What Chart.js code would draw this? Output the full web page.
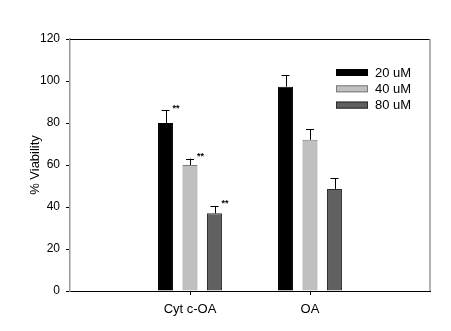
<!DOCTYPE html>
<html>
<head>
<meta charset="utf-8">
<script src="https://cdn.jsdelivr.net/npm/chart.js@4/dist/chart.umd.min.js"></script>
<style>
  html, body { margin: 0; padding: 0; background: #fff; }
  #wrap { width: 451px; height: 331px; }
</style>
</head>
<body>
<div id="wrap"><canvas id="chart"></canvas></div>
<script>
// categories (empty slots at the ends give the side space of the original plot)
const categories = ["", "Cyt c-OA", "OA", ""];
const seriesNames = ["20 uM", "40 uM", "80 uM"];

// mean % viability per series
const viability20 = [null, 80, 97.3, null];
const viability40 = [null, 60, 72, null];
const viability80 = [null, 37, 48.6, null];

// upper error (SD) per series
const err20 = [0, 6, 5.5, 0];
const err40 = [0, 3, 5, 0];
const err80 = [0, 3.5, 5, 0];

// significance marks
const sig20 = ["", "**", "", ""];
const sig40 = ["", "**", "", ""];
const sig80 = ["", "**", "", ""];

const yTicks = [0, 20, 40, 60, 80, 100, 120];

const FONT = "Arial, 'Liberation Sans', sans-serif";

const errorBars = {
  id: "errorBars",
  afterDatasetsDraw(chart) {
    const ctx = chart.ctx;
    const yScale = chart.scales.y;
    chart.data.datasets.forEach((ds, di) => {
      const meta = chart.getDatasetMeta(di);
      meta.data.forEach((bar, i) => {
        const v = ds.data[i];
        if (v == null) return;
        const yTop = yScale.getPixelForValue(v + ds.errors[i]);
        const yVal = yScale.getPixelForValue(v);
        ctx.save();
        ctx.strokeStyle = "#000";
        ctx.lineWidth = 1;
        ctx.beginPath();
        ctx.moveTo(Math.round(bar.x) + 0.5, yVal);
        ctx.lineTo(Math.round(bar.x) + 0.5, yTop);
        ctx.moveTo(bar.x - 4, Math.round(yTop) + 0.5);
        ctx.lineTo(bar.x + 4, Math.round(yTop) + 0.5);
        ctx.stroke();
        if (ds.sig[i]) {
          ctx.fillStyle = "#000";
          ctx.font = "bold 9px " + FONT;
          ctx.textAlign = "left";
          ctx.textBaseline = "middle";
          ctx.fillText(ds.sig[i], bar.x + 7, yTop - 2);
        }
        ctx.restore();
      });
    });
  },
  afterDraw(chart) {
    const ctx = chart.ctx;
    const a = chart.chartArea;
    ctx.save();
    // frame: top black, right gray
    ctx.lineWidth = 1;
    ctx.strokeStyle = "#000";
    ctx.beginPath();
    ctx.moveTo(a.left, a.top + 0.5);
    ctx.lineTo(a.right, a.top + 0.5);
    ctx.stroke();
    ctx.strokeStyle = "#999";
    ctx.lineWidth = 1.5;
    ctx.beginPath();
    ctx.moveTo(a.right, a.top);
    ctx.lineTo(a.right, a.bottom);
    ctx.stroke();
    // legend
    chart.data.datasets.forEach((ds, i) => {
      const y = 72.5 + i * 16.3;
      ctx.fillStyle = ds.backgroundColor;
      ctx.strokeStyle = ds.borderColor;
      ctx.lineWidth = 1;
      ctx.fillRect(336, y - 3.5, 32, 7);
      ctx.strokeRect(336.5, y - 3, 31, 6);
      ctx.fillStyle = "#000";
      ctx.font = "13px " + FONT;
      ctx.textAlign = "left";
      ctx.textBaseline = "middle";
      ctx.fillText(ds.label, 375, y + 0.5);
    });
    ctx.restore();
  }
};

new Chart(document.getElementById("chart"), {
  type: "bar",
  data: {
    labels: categories,
    datasets: [
      { label: seriesNames[0], data: viability20, errors: err20, sig: sig20,
        backgroundColor: "#000000", borderColor: "#000000", borderWidth: 1 },
      { label: seriesNames[1], data: viability40, errors: err40, sig: sig40,
        backgroundColor: "#c0c0c0", borderColor: "#7a7a7a", borderWidth: 1 },
      { label: seriesNames[2], data: viability80, errors: err80, sig: sig80,
        backgroundColor: "#606060", borderColor: "#2a2a2a", borderWidth: 1 },
    ],
  },
  options: {
    responsive: true,
    maintainAspectRatio: false,
    animation: false,
    layout: { padding: { top: 39, right: 21, left: 0, bottom: 0 } },
    datasets: {
      bar: { categoryPercentage: 0.6125, barPercentage: 0.61 },
    },
    plugins: {
      legend: { display: false },
      tooltip: { enabled: false },
    },
    scales: {
      x: {
        offset: false,
        grid: {
          offset: false,
          drawOnChartArea: false,
          tickLength: 4,
          tickColor: (c) => (categories[c.index] ? "#000" : "rgba(0,0,0,0)"),
        },
        border: { color: "#000", width: 1 },
        ticks: { color: "#000", padding: 7, font: { family: FONT, size: 13 } },
        afterFit: (s) => { s.height = 40; },
      },
      y: {
        min: 0,
        max: 120,
        afterBuildTicks: (s) => { s.ticks = yTicks.map((v) => ({ value: v })); },
        grid: { drawOnChartArea: false, tickLength: 4, tickColor: "#000" },
        border: { color: "#999", width: 1.5 },
        ticks: { color: "#000", padding: 6, font: { family: FONT, size: 12 } },
        title: {
          display: true,
          text: "% Viability",
          color: "#000",
          padding: { top: 28 },
          font: { family: FONT, size: 13 },
        },
        afterFit: (s) => { s.width = 70; },
      },
    },
  },
  plugins: [errorBars],
});
</script>
</body>
</html>
